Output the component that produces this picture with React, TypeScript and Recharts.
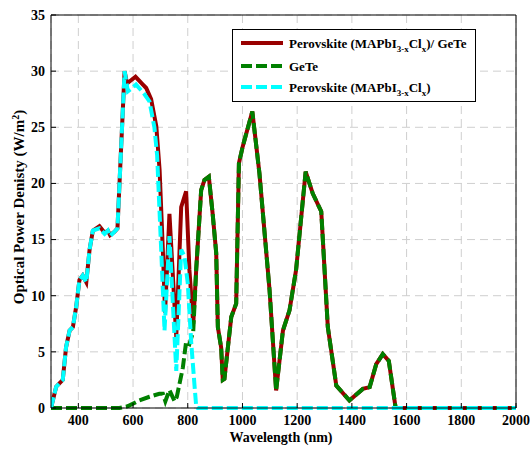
import React from 'react';
import { LineChart, Line, XAxis, YAxis, CartesianGrid, Legend } from 'recharts';

// wavelength (nm) / optical power density (W/m^2)
const combinedNm = [300, 319, 343, 355, 368, 380, 392, 404, 416, 429, 441, 453, 477, 496, 508, 516, 532, 543, 569, 578, 609, 636, 648, 666, 685, 697, 709, 717, 733, 758, 776, 794, 806, 820, 831, 849, 861, 877, 891, 904, 910, 922, 928, 934, 959, 977, 987, 1001, 1036, 1062, 1099, 1123, 1148, 1172, 1196, 1231, 1257, 1288, 1312, 1343, 1391, 1440, 1465, 1489, 1513, 1535, 1560, 2000];
const combinedVal = [0, 1.9, 2.5, 5.4, 6.9, 7.2, 9.0, 11.4, 11.8, 11.2, 14.1, 15.8, 16.2, 15.6, 15.8, 15.4, 15.7, 16.0, 30.0, 28.9, 29.5, 28.8, 28.5, 27.5, 25.1, 21.2, 14.0, 8.5, 17.3, 6.3, 17.9, 19.3, 12.3, 7.5, 12.4, 19.4, 20.3, 20.6, 17.3, 13.8, 7.2, 5.4, 2.5, 2.6, 8.1, 9.3, 21.8, 23.3, 26.4, 20.9, 10.5, 1.56, 6.9, 8.7, 12.3, 21.05, 19.1, 17.5, 7.2, 2.0, 0.67, 1.7, 1.86, 3.9, 4.8, 4.2, 0, 0];

const geteNm = [300, 550, 580, 623, 660, 696, 709, 718, 733, 752, 760, 782, 794, 806, 820, 831, 849, 861, 877, 891, 904, 910, 922, 928, 934, 959, 977, 987, 1001, 1036, 1062, 1099, 1123, 1148, 1172, 1196, 1231, 1257, 1288, 1312, 1343, 1391, 1440, 1465, 1489, 1513, 1535, 1560, 2000];
const geteVal = [0, 0, 0.15, 0.67, 1.0, 1.27, 1.27, 0.6, 1.6, 0.6, 1.0, 3.6, 5.9, 5.7, 6.8, 12.4, 19.4, 20.3, 20.6, 17.3, 13.8, 7.2, 5.4, 2.5, 2.6, 8.1, 9.3, 21.8, 23.3, 26.4, 20.9, 10.5, 1.56, 6.9, 8.7, 12.3, 21.05, 19.1, 17.5, 7.2, 2.0, 0.67, 1.7, 1.86, 3.9, 4.8, 4.2, 0, 0];

const perovNm = [300, 319, 343, 355, 368, 380, 392, 404, 416, 429, 441, 453, 477, 496, 508, 516, 532, 543, 569, 581, 611, 640, 660, 678, 688, 703, 715, 733, 758, 776, 788, 800, 813, 825, 831, 836, 2000];
const perovVal = [0, 1.9, 2.5, 5.4, 6.9, 7.2, 9.0, 11.4, 11.8, 11.2, 14.1, 15.8, 16.0, 15.5, 15.8, 15.3, 15.7, 16.0, 30.0, 28.2, 28.8, 28.0, 27.3, 25.0, 22.5, 14.0, 6.9, 15.3, 3.3, 14.1, 13.5, 11.1, 5.7, 1.9, 0.1, 0, 0];

const xTicks = [400, 600, 800, 1000, 1200, 1400, 1600, 1800, 2000];
const yTicks = [0, 5, 10, 15, 20, 25, 30, 35];

const toRows = (nm: number[], val: number[]) => nm.map((n, i) => ({ nm: n, value: val[i] }));

const combinedData = toRows(combinedNm, combinedVal);
const geteData = toRows(geteNm, geteVal);
const perovData = toRows(perovNm, perovVal);

const FONT = '"Liberation Serif", "Times New Roman", serif';
const RED = '#990000';
const GREEN = '#008000';
const CYAN = '#00FFFF';
const AXIS_LINE = { stroke: '#000', strokeWidth: 1 };

const BottomTick = ({ x, y, payload }: any) => (
    <g>
        <line x1={x} x2={x} y1={y} y2={y - 5} stroke="#000" />
        <text x={x} y={y + 17} textAnchor="middle" fontFamily={FONT} fontWeight="bold" fontSize={14} fill="#000">
            {payload.value}
        </text>
    </g>
);

const TopTick = ({ x, y }: any) => <line x1={x} x2={x} y1={y} y2={y + 5} stroke="#000" />;

const LeftTick = ({ x, y, payload }: any) => (
    <g>
        <line x1={x} x2={x + 5} y1={y} y2={y} stroke="#000" />
        <text x={x - 6} y={y} dy="0.35em" textAnchor="end" fontFamily={FONT} fontWeight="bold" fontSize={14} fill="#000">
            {payload.value}
        </text>
    </g>
);

const RightTick = ({ x, y }: any) => <line x1={x} x2={x - 5} y1={y} y2={y} stroke="#000" />;

const legendItems = [
    { color: RED, dash: undefined, main: 'Perovskite (MAPbI', tail: ')/ GeTe', subs: true },
    { color: GREEN, dash: '11 4', main: 'GeTe', tail: '', subs: false },
    { color: CYAN, dash: '11 4', main: 'Perovskite (MAPbI', tail: ')', subs: true },
];
const rowY = [14, 37, 58];

const LegendBox = () => (
    <svg width={244} height={73} style={{ display: 'block' }}>
        <rect x={0.5} y={0.5} width={243} height={72} fill="#fff" stroke="#000" />
        {legendItems.map((item, i) => (
            <g key={i}>
                <line x1={9} x2={51} y1={rowY[i]} y2={rowY[i]} stroke={item.color} strokeWidth={4} strokeDasharray={item.dash} />
                <text x={57} y={rowY[i] + 5} fontFamily={FONT} fontWeight="bold" fontSize={13} fill="#000">
                    {item.main}
                    {item.subs && (
                        <>
                            <tspan dy={4} fontSize={9}>3-x</tspan>
                            <tspan dy={-4}>Cl</tspan>
                            <tspan dy={4} fontSize={9}>x</tspan>
                            <tspan dy={-4}>{item.tail}</tspan>
                        </>
                    )}
                </text>
            </g>
        ))}
    </svg>
);

const App = () => {
    return (
        <div style={{ position: 'absolute', left: 0, top: 0, background: '#fff' }}>
            <LineChart width={530} height={449} margin={{ top: 0, right: 0, bottom: 0, left: 0 }}>
                <CartesianGrid stroke="#cfcfcf" strokeDasharray="8 5" />
                <XAxis
                    dataKey="nm"
                    type="number"
                    domain={[300, 2000]}
                    ticks={xTicks}
                    interval={0}
                    height={41}
                    tickLine={false}
                    tickSize={0}
                    tickMargin={0}
                    axisLine={AXIS_LINE}
                    tick={<BottomTick />}
                    allowDataOverflow
                    label={{
                        content: () => (
                            <text x={281} y={442} textAnchor="middle" fontFamily={FONT} fontWeight="bold" fontSize={14} fill="#000">
                                Wavelength (nm)
                            </text>
                        ),
                    }}
                />
                <XAxis
                    xAxisId="top"
                    orientation="top"
                    dataKey="nm"
                    type="number"
                    domain={[300, 2000]}
                    ticks={xTicks}
                    interval={0}
                    height={15}
                    tickLine={false}
                    tickSize={0}
                    tickMargin={0}
                    axisLine={AXIS_LINE}
                    tick={<TopTick />}
                />
                <YAxis
                    type="number"
                    domain={[0, 35]}
                    ticks={yTicks}
                    interval={0}
                    width={51}
                    tickLine={false}
                    tickSize={0}
                    tickMargin={0}
                    axisLine={AXIS_LINE}
                    tick={<LeftTick />}
                    label={{
                        content: () => (
                            <text x={24} y={207} transform="rotate(-90, 24, 207)" textAnchor="middle" fontFamily={FONT} fontWeight="bold" fontSize={15} fill="#000">
                                Optical Power Denisty (W/m
                                <tspan dy={-5} fontSize={10}>2</tspan>
                                <tspan dy={5}>)</tspan>
                            </text>
                        ),
                    }}
                />
                <YAxis
                    yAxisId="right"
                    orientation="right"
                    type="number"
                    domain={[0, 35]}
                    ticks={yTicks}
                    interval={0}
                    width={14}
                    tickLine={false}
                    tickSize={0}
                    tickMargin={0}
                    axisLine={AXIS_LINE}
                    tick={<RightTick />}
                />
                <Line
                    data={combinedData}
                    dataKey="value"
                    type="linear"
                    stroke={RED}
                    strokeWidth={4}
                    dot={false}
                    activeDot={false}
                    isAnimationActive={false}
                    name="combined"
                />
                <Line
                    data={geteData}
                    dataKey="value"
                    type="linear"
                    stroke={GREEN}
                    strokeWidth={4}
                    strokeDasharray="11 4"
                    dot={false}
                    activeDot={false}
                    isAnimationActive={false}
                    name="GeTe"
                />
                <Line
                    data={perovData}
                    dataKey="value"
                    type="linear"
                    stroke={CYAN}
                    strokeWidth={4}
                    strokeDasharray="11 4"
                    dot={false}
                    activeDot={false}
                    isAnimationActive={false}
                    name="perovskite"
                />
                <Legend
                    layout="vertical"
                    align="center"
                    verticalAlign="middle"
                    content={<LegendBox />}
                    wrapperStyle={{ left: 232, top: 29, width: 244, height: 73 }}
                />
            </LineChart>
        </div>
    );
};

export default App;
